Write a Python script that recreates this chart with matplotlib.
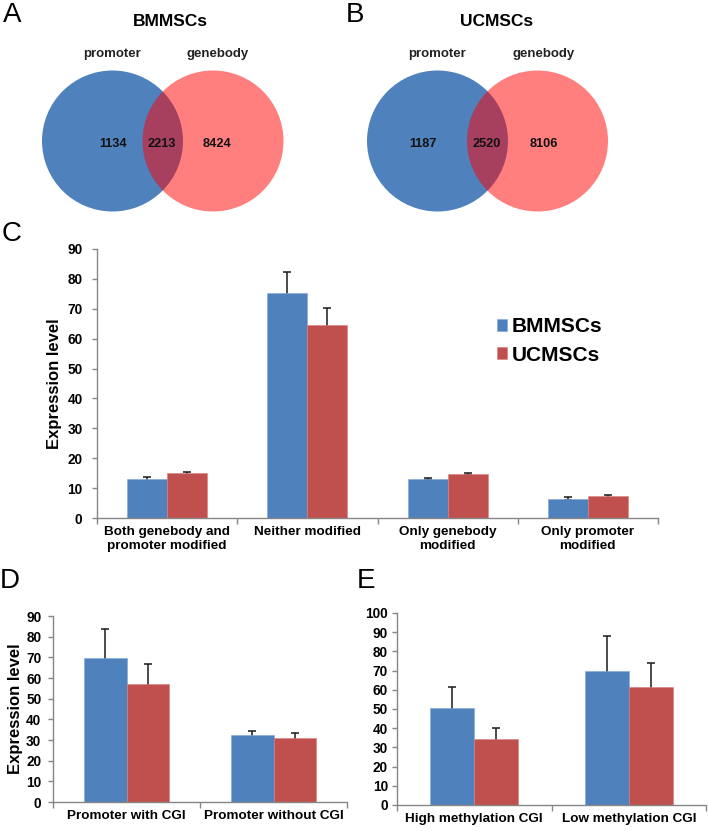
import numpy as np
import matplotlib
matplotlib.use("Agg")
import matplotlib.pyplot as plt
from matplotlib.patches import Circle

plt.rcParams['font.family'] = ['Liberation Sans', 'DejaVu Sans']

# ---------------- data ----------------
venn_titles = ["BMMSCs", "UCMSCs"]
venn_set_labels = ["promoter", "genebody"]
venn_bm = [1134, 2213, 8424]   # promoter only, both, genebody only
venn_uc = [1187, 2520, 8106]

series_names = ["BMMSCs", "UCMSCs"]

c_categories = ["Both genebody and\npromoter modified", "Neither modified",
                "Only genebody\nmodified", "Only promoter\nmodified"]
c_bm = [13.0, 75.2, 13.0, 6.5]
c_uc = [14.9, 64.6, 14.7, 7.3]
c_bm_err = [0.6, 7.2, 0.3, 0.5]
c_uc_err = [0.5, 5.6, 0.3, 0.5]

d_categories = ["Promoter with CGI", "Promoter without CGI"]
d_bm = [69.5, 32.2]
d_uc = [57.3, 31.0]
d_bm_err = [14.0, 2.3]
d_uc_err = [9.7, 2.2]

e_categories = ["High methylation CGI", "Low methylation CGI"]
e_bm = [50.3, 70.0]
e_uc = [34.2, 61.2]
e_bm_err = [11.4, 18.0]
e_uc_err = [5.8, 12.8]

# ---------------- style ----------------
W, H = 708, 831
BLUE = "#4F81BD"
RED = "#C0504D"
AXGRAY = "#868686"

fig = plt.figure(figsize=(W / 100, H / 100), dpi=100)
fig.patch.set_facecolor("white")


def px_axes(l, t, r, b, **kw):
    return fig.add_axes([l / W, 1 - b / H, (r - l) / W, (b - t) / H], **kw)


# overlay axes in pixel coordinates for panel letters and Venn diagrams
ov = px_axes(0, 0, W, H)
ov.set_xlim(0, W)
ov.set_ylim(H, 0)
ov.axis("off")

for letter, (x, y) in zip("ABCDE", [(12, 15), (355, 15), (12, 234), (10, 581), (366, 581)]):
    ov.text(x, y, letter, fontsize=20, ha="center", va="center", color="black")

venn_layout = [
    dict(cx=(112.5, 213.0), title_x=170, lab_x=(112, 218), num_x=(113, 162, 217)),
    dict(cx=(437.5, 537.5), title_x=497, lab_x=(437, 544), num_x=(423, 487, 544)),
]
R = 70.5
CY = 141
for counts, title, lay in zip([venn_bm, venn_uc], venn_titles, venn_layout):
    ov.add_patch(Circle((lay["cx"][0], CY), R, facecolor=BLUE, edgecolor="none"))
    ov.add_patch(Circle((lay["cx"][1], CY), R, facecolor="#FF0000", alpha=0.5, edgecolor="none"))
    ov.text(lay["title_x"], 21, title, fontsize=12.5, fontweight="bold", ha="center", va="center")
    for lx, lab in zip(lay["lab_x"], venn_set_labels):
        ov.text(lx, 54, lab, fontsize=9.5, fontweight="bold", ha="center", va="center", color="#222222")
    for nx, n in zip(lay["num_x"], counts):
        ov.text(nx, 144, str(n), fontsize=9.2, fontweight="bold", ha="center", va="center", color="#111111")


def bar_panel(ax, cats, bm, uc, bm_err, uc_err, ymax, ylabel=None, ypad=6,
              label_x=None):
    n = len(cats)
    x = np.arange(n)
    w = 0.286
    ekw = dict(fmt="none", ecolor="#1a1a1a", elinewidth=1.1, capsize=3.2,
               capthick=1.1, zorder=1)
    # error bars drawn behind bars so only the upper half shows
    ax.errorbar(x - w / 2, bm, yerr=bm_err, **ekw)
    ax.errorbar(x + w / 2, uc, yerr=uc_err, **ekw)
    ax.bar(x - w / 2, bm, w, color=BLUE, edgecolor="#7fa6d6", linewidth=0.4,
           label=series_names[0], zorder=2)
    ax.bar(x + w / 2, uc, w, color=RED, edgecolor="#d77f7c", linewidth=0.4,
           label=series_names[1], zorder=2)
    ax.set_xlim(-0.5, n - 0.5)
    ax.set_ylim(0, ymax)
    ax.set_yticks(np.arange(0, ymax + 1, 10))
    ax.set_xticks(np.arange(n + 1) - 0.5)
    ax.set_xticklabels([""] * (n + 1))
    ax.set_xticks(x, minor=True)
    ax.set_xticklabels(cats, minor=True, fontsize=9.7, fontweight="bold",
                       linespacing=1.2)
    ax.tick_params(axis="x", which="minor", length=0, pad=6)
    ax.tick_params(axis="x", which="major", length=4, color=AXGRAY, width=1)
    ax.tick_params(axis="y", length=3.5, color=AXGRAY, width=1, pad=ypad,
                   labelsize=9.8, direction="out")
    for lab in ax.get_yticklabels():
        lab.set_fontweight("bold")
    for s in ["top", "right"]:
        ax.spines[s].set_visible(False)
    for s in ["left", "bottom"]:
        ax.spines[s].set_color(AXGRAY)
        ax.spines[s].set_linewidth(1)
    if ylabel:
        ax.set_ylabel(ylabel, fontsize=12, fontweight="bold", va="center")
        ax.yaxis.set_label_coords(label_x, 0.5)


# Panel C
axc = px_axes(97, 249, 658, 518)
bar_panel(axc, c_categories, c_bm, c_uc, c_bm_err, c_uc_err, 90,
          ylabel="Expression level", ypad=7, label_x=(55 - 97) / (658 - 97))
leg = axc.legend(loc="center left", bbox_to_anchor=(497 / W, 1 - 341 / H),
                 bbox_transform=fig.transFigure, frameon=False,
                 prop=dict(size=15, weight="bold"), handlelength=0.5,
                 handleheight=0.5, handletextpad=0.2, labelspacing=0.45,
                 borderpad=0, borderaxespad=0)

# Panel D
axd = px_axes(53, 616, 347, 802)
bar_panel(axd, d_categories, d_bm, d_uc, d_bm_err, d_uc_err, 90,
          ylabel="Expression level", ypad=5, label_x=(16 - 53) / (347 - 53))

# Panel E
axe = px_axes(397, 613, 706, 805)
bar_panel(axe, e_categories, e_bm, e_uc, e_bm_err, e_uc_err, 100, ypad=3)

fig.savefig("out.png", dpi=100, facecolor="white")
